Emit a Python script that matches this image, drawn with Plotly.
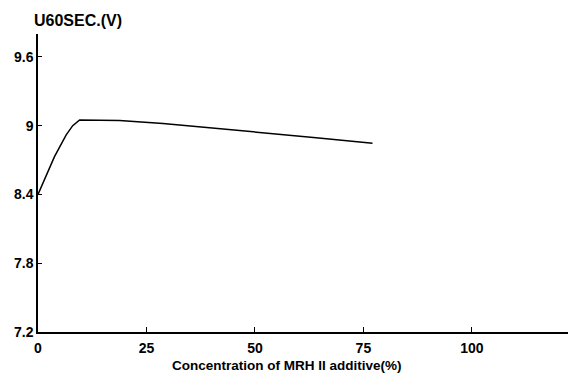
import plotly.graph_objects as go

conc = [0, 3.8, 6.5, 8.0, 9.6, 18.8, 28.8, 41.8, 51.0, 64.1, 77.1]
u60 = [8.4, 8.73, 8.92, 9.0, 9.05, 9.045, 9.02, 8.976, 8.94, 8.895, 8.846]

x_ticks = [0, 25, 50, 75, 100]
y_ticks = [7.2, 7.8, 8.4, 9.0, 9.6]
y_tick_text = ["7.2", "7.8", "8.4", "9", "9.6"]

FAM = "Liberation Sans, Arial, sans-serif"
tickfont = dict(family=FAM, size=14, color="black", weight="bold")

fig = go.Figure()
fig.add_trace(go.Scatter(x=conc, y=u60, mode="lines",
                         line=dict(color="black", width=1.5),
                         showlegend=False, hoverinfo="skip"))

# the page has an 8px body margin, so the figure is sized 568x369
fig.update_layout(
    width=568, height=369,
    margin=dict(l=30, r=0, t=26, b=45, autoexpand=False),
    plot_bgcolor="white", paper_bgcolor="white",
    xaxis=dict(range=[0, 124], tickvals=x_ticks, ticktext=[str(v) for v in x_ticks],
               showgrid=False, zeroline=False, showline=True, linecolor="black", linewidth=1.5,
               ticks="inside", ticklen=5, tickwidth=1.2, tickcolor="black",
               tickfont=tickfont, automargin=False, ticklabelstandoff=2),
    yaxis=dict(range=[7.2, 9.8], tickvals=y_ticks, ticktext=y_tick_text,
               showgrid=False, zeroline=False, showline=True, linecolor="black", linewidth=1.5,
               ticks="inside", ticklen=4, tickwidth=1.2, tickcolor="black",
               tickfont=tickfont, automargin=False),
)

fig.add_annotation(text="U60SEC.(V)", xref="paper", yref="paper", x=0, y=1,
                   xanchor="left", yanchor="middle", yshift=14, xshift=-6, showarrow=False,
                   font=dict(family=FAM, size=16, color="black", weight="bold"))
fig.add_annotation(text="Concentration of MRH II additive(%)", xref="x", yref="paper",
                   x=57.3, y=0, yshift=-33, xanchor="center", yanchor="middle", showarrow=False,
                   font=dict(family=FAM, size=13.5, color="black", weight="bold"))

fig.write_html("out.html")
